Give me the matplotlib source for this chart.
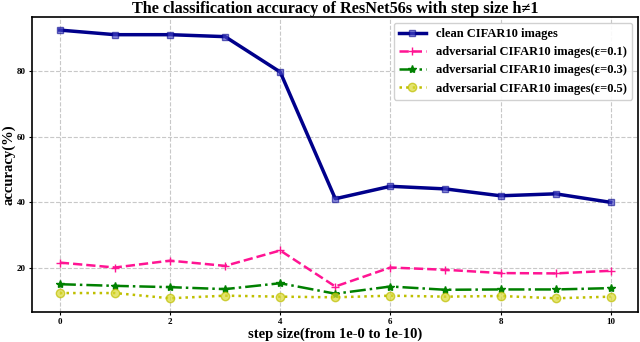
import matplotlib
matplotlib.use('Agg')
import matplotlib.pyplot as plt
import numpy as np

plt.rcParams['font.family'] = ['Liberation Serif', 'DejaVu Serif']
plt.rcParams['font.weight'] = 'bold'

steps = np.arange(11)
clean = [92.5, 91.1, 91.1, 90.5, 79.7, 41.0, 44.8, 44.0, 41.9, 42.5, 39.9]
adv_01 = [21.5, 20.0, 22.1, 20.5, 25.2, 14.2, 20.0, 19.3, 18.3, 18.2, 19.0]
adv_03 = [14.9, 14.4, 14.0, 13.4, 15.2, 12.0, 14.2, 13.2, 13.3, 13.3, 13.7]
adv_05 = [12.2, 12.2, 10.6, 11.4, 11.1, 10.9, 11.4, 11.1, 11.3, 10.6, 11.1]

fig = plt.figure(figsize=(6.4, 3.42), dpi=100)
ax = fig.add_axes([0.0505, 0.0886, 0.9468, 0.8626])

ax.plot(steps, clean, color='#00008B', lw=2.5, marker='s', ms=5,
        mfc=(0.3, 0.3, 0.8, 0.6), label='clean CIFAR10 images')
ax.plot(steps, adv_01, color='#FF1493', lw=1.8, ls='--', marker='+', ms=6,
        label='adversarial CIFAR10 images(\u03b5=0.1)')
ax.plot(steps, adv_03, color='#008000', lw=1.8, ls='-.', marker='*', ms=6,
        label='adversarial CIFAR10 images(\u03b5=0.3)')
ax.plot(steps, adv_05, color='#BFBF00', lw=1.8, ls=':', marker='o', ms=6,
        mfc=(0.85, 0.85, 0.2, 0.7), label='adversarial CIFAR10 images(\u03b5=0.5)')

ax.grid(True, ls='--', color='#c8c8c8', lw=0.8)
ax.set_xticks([0, 2, 4, 6, 8, 10])
ax.set_yticks([20, 40, 60, 80])
ax.tick_params(labelsize=6.5, length=2.5, pad=2)
for s in ax.spines.values():
    s.set_linewidth(1.2)
ax.set_xlabel('step size(from 1e-0 to 1e-10)', fontsize=10.5, fontweight='bold', labelpad=1)
ax.set_ylabel('accuracy(%)', fontsize=10.5, fontweight='bold', labelpad=1)
ax.set_title('The classification accuracy of ResNet56s with step size h\u22601',
             fontsize=11.7, fontweight='bold', pad=2)
ax.legend(loc='upper right', fontsize=9, handlelength=2.2, framealpha=0.9)

fig.savefig('out.png', dpi=100)
